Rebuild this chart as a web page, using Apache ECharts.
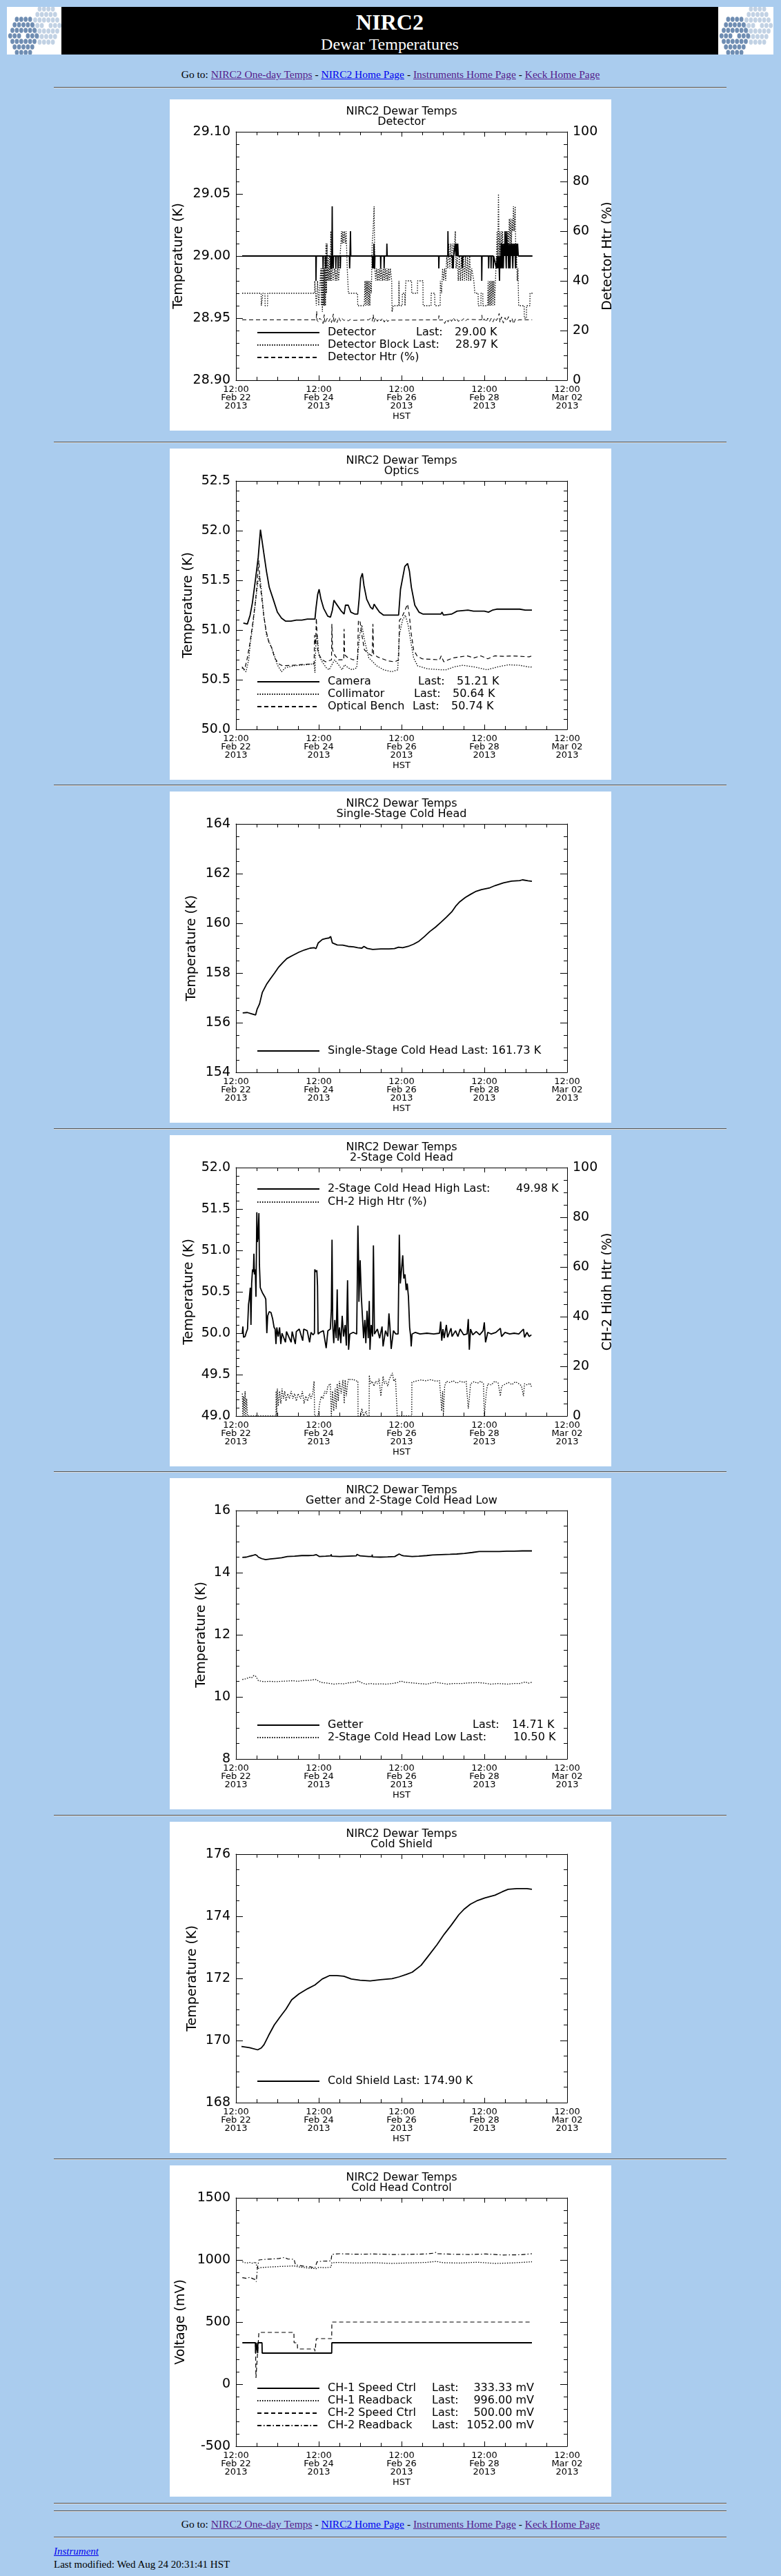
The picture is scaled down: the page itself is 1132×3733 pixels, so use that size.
<!DOCTYPE html>
<html>
<head>
<meta charset="utf-8">
<title>NIRC2 Dewar Temperatures</title>
<script src="https://cdn.jsdelivr.net/npm/echarts@6.0.0/dist/echarts.min.js"></script>
<style>
body { margin:0; background:#aaccee; width:1132px; height:3733px; position:relative; overflow:hidden;
       font-family:"Liberation Serif","Times New Roman",serif; color:#000; }
.logo { position:absolute; top:10px; width:80px; height:69px; background:#fff; }
.banner { position:absolute; left:89px; top:10px; width:952px; height:69px; background:#000; color:#fff; text-align:center; }
.banner .t1 { position:absolute; left:0; width:100%; top:6px; font-size:32px; line-height:32px; font-weight:bold; }
.banner .t2 { position:absolute; left:0; width:100%; top:42px; font-size:24px; line-height:24px; }
.hr { position:absolute; left:78px; width:975px; height:0; border-top:1px solid #555; border-bottom:1px solid #dcdcdc; }
.nav { position:absolute; left:0; width:1132px; text-align:center; font-size:15.5px; line-height:16px; }
.line { position:absolute; left:78px; font-size:15px; line-height:16px; }
a { text-decoration:underline; }
a.v { color:#551a8b; }
a.n { color:#0000ee; }
.panel { position:absolute; left:246px; width:640px; height:480px; background:#fff; }
</style>
</head>
<body>
<div class="logo" id="logoL" style="left:10px"></div>
<div class="banner"><div class="t1">NIRC2</div><div class="t2">Dewar Temperatures</div></div>
<div class="logo" id="logoR" style="left:1041px"></div>

<div class="nav" style="top:100px">Go to: <a class="v" href="#">NIRC2 One-day Temps</a> - <a class="n" href="#">NIRC2 Home Page</a> - <a class="v" href="#">Instruments Home Page</a> - <a class="v" href="#">Keck Home Page</a></div>
<div class="hr" style="top:126px"></div>

<div class="panel" id="c1" style="top:144px"></div>
<div class="hr" style="top:640px"></div>
<div class="panel" id="c2" style="top:650px"></div>
<div class="hr" style="top:1137px"></div>
<div class="panel" id="c3" style="top:1147px"></div>
<div class="hr" style="top:1635px"></div>
<div class="panel" id="c4" style="top:1645px"></div>
<div class="hr" style="top:2132px"></div>
<div class="panel" id="c5" style="top:2142px"></div>
<div class="hr" style="top:2630px"></div>
<div class="panel" id="c6" style="top:2640px"></div>
<div class="hr" style="top:3128px"></div>
<div class="panel" id="c7" style="top:3138px"></div>

<div class="hr" style="top:3627px"></div>
<div class="hr" style="top:3638px"></div>
<div class="nav" style="top:3650px">Go to: <a class="v" href="#">NIRC2 One-day Temps</a> - <a class="n" href="#">NIRC2 Home Page</a> - <a class="v" href="#">Instruments Home Page</a> - <a class="v" href="#">Keck Home Page</a></div>
<div class="hr" style="top:3676px"></div>
<div class="line" style="top:3689px"><a class="n" href="#"><i>Instrument</i></a></div>
<div class="line" style="top:3708px">Last modified: Wed Aug 24 20:31:41 HST</div>

<script>
// x values are hours after 12:00 HST Feb 22 2013
const xDays = ['Feb 22', 'Feb 24', 'Feb 26', 'Feb 28', 'Mar 02'];

// --- Detector ---
const detector = [[3.6,29.00],[46.3,29.00],[46.4,28.98],[46.6,29.00],[50.4,29.00],[50.5,28.99],[50.7,29.00],[52.0,29.00],[52.1,28.99],[52.3,29.00],
  [54.9,29.00],[55.0,28.99],[55.2,29.00],[55.4,28.99],[55.6,29.00],[55.8,29.04],[56.0,29.00],[56.4,28.99],[56.6,29.00],[57.8,29.00],[57.9,28.99],[58.1,29.00],
  [59.1,29.00],[59.2,28.99],[59.4,29.00],[60.4,29.00],[60.5,28.99],[60.7,29.00],[65.8,29.00],[65.9,28.99],[66.1,29.00],[66.4,29.02],[66.6,29.00],
  [79.1,29.00],[79.2,28.99],[79.4,29.00],[79.8,28.99],[80.0,29.01],[80.2,29.00],[80.4,28.99],[80.6,29.00],[83.8,29.00],[83.9,28.99],[84.1,29.00],
  [85.8,29.00],[85.9,28.99],[86.1,29.00],[87.4,29.00],[87.5,29.01],[87.7,29.00],[117.5,29.00],[117.6,28.99],[117.8,29.00],[122.8,29.00],[122.9,29.02],[123.1,29.00],
  [125.5,29.00],[125.6,28.99],[125.8,29.00],[126.0,28.99],[126.2,29.00],[127.1,29.01],[127.5,29.00],[127.8,29.01],[128.2,29.00],[128.6,29.01],[128.9,29.00],
  [131.1,29.00],[131.2,28.99],[131.4,29.00],[142.4,29.00],[142.5,28.98],[142.7,29.00],[146.4,29.00],[146.5,28.99],[146.7,29.00],[147.8,29.00],[147.9,28.99],[148.1,29.00],
  [149.1,29.00],[149.2,28.99],[149.4,29.00],[151.0,28.99],[151.4,29.00],[151.8,28.99],[152.2,29.00],[152.6,28.99],[152.8,28.98],[153.0,29.00],[153.4,28.99],
  [153.8,29.01],[154.2,28.99],[154.6,29.01],[155.0,28.99],[155.4,29.01],[155.8,29.00],[156.0,29.02],[156.3,29.01],[156.7,28.99],[157.0,29.02],[157.3,29.00],
  [157.7,29.01],[158.1,28.99],[158.5,29.01],[158.9,28.99],[159.3,29.01],[159.7,29.00],[160.1,29.01],[160.5,28.99],[160.9,29.01],[161.3,29.00],[161.7,29.01],
  [162.1,28.99],[162.5,29.01],[162.9,29.00],[163.3,29.01],[163.7,29.00],[171.9,29.00]];
const detectorBlock = [[3.6,28.97],[14.6,28.97],[14.7,28.96],[15.5,28.96],[15.6,28.97],[16.8,28.97],[16.9,28.96],[18.3,28.96],[18.4,28.97],[45.6,28.97],
  [45.7,28.98],[46.5,28.98],[46.6,28.96],[47.2,28.96],[47.3,28.98],[47.9,28.98],[48.0,28.96],[49.2,28.99],[49.5,28.96],[49.8,28.99],[50.1,28.955],[50.4,28.99],
  [50.7,28.96],[51.0,28.99],[51.3,28.96],[51.6,29.00],[51.9,28.96],[52.2,29.01],[52.5,28.97],[52.8,29.01],[53.1,28.98],[53.5,29.00],[53.9,28.98],[54.3,29.00],
  [54.7,28.98],[55.0,29.02],[55.4,28.98],[55.8,29.00],[56.3,28.98],[57.2,28.99],[57.6,28.98],[58.0,28.99],[58.5,28.98],[59.0,28.99],[59.5,28.98],[60.0,28.99],
  [61.2,29.02],[61.6,29.01],[62.0,29.02],[62.5,29.01],[63.0,29.02],[63.5,29.01],[63.9,29.02],[64.5,28.99],[65.2,28.97],[70.5,28.97],[70.6,28.96],[74.4,28.96],
  [74.8,28.98],[75.2,28.96],[75.6,28.98],[76.0,28.96],[76.4,28.98],[76.8,28.96],[77.2,28.98],[77.6,28.96],[78.0,28.98],[78.5,28.97],[79.0,29.01],[79.5,29.02],
  [80.1,29.04],[80.5,28.99],[81.0,28.98],[81.5,28.99],[82.0,28.98],[82.5,28.99],[83.0,28.98],[83.5,28.99],[84.0,28.98],[84.5,28.99],[85.0,28.98],[85.5,28.99],
  [86.0,28.98],[86.5,28.99],[87.0,28.98],[87.5,28.99],[88.0,28.98],[88.5,28.99],[89.0,28.98],[89.5,28.99],[90.3,28.98],[90.5,28.955],[91.2,28.96],[94.4,28.96],
  [94.5,28.98],[94.7,28.96],[96.4,28.96],[96.5,28.97],[97.9,28.97],[98.0,28.96],[98.4,28.96],[98.5,28.98],[101.8,28.98],[101.9,28.97],[105.2,28.97],[105.3,28.98],
  [108.4,28.98],[108.5,28.96],[113.1,28.96],[113.2,28.97],[115.2,28.97],[115.3,28.96],[118.4,28.96],[118.5,28.98],[119.2,28.97],[119.8,28.99],[120.4,28.98],
  [121.0,28.99],[121.6,28.98],[122.2,29.00],[122.8,28.99],[123.4,29.01],[124.0,28.99],[124.6,29.01],[125.2,28.99],[125.8,29.01],[126.4,29.00],[127.2,29.02],
  [127.6,28.99],[128.3,29.00],[128.9,28.98],[129.5,29.00],[130.1,28.98],[130.7,29.00],[131.3,28.98],[131.9,29.00],[132.5,28.98],[133.1,29.00],[133.7,28.98],
  [134.3,29.00],[134.9,28.98],[135.5,29.00],[136.1,28.98],[136.7,28.99],[137.9,28.98],[138.5,28.97],[140.4,28.97],[140.5,28.96],[142.0,28.96],[142.1,28.97],
  [143.1,28.97],[143.2,28.96],[145.8,28.96],[146.2,28.98],[146.6,28.96],[147.0,28.98],[147.4,28.96],[147.8,28.98],[148.2,28.96],[148.6,28.98],[149.0,28.96],
  [149.5,28.98],[149.9,28.96],[151.0,29.00],[151.4,29.02],[151.8,29.00],[152.2,29.05],[152.6,29.00],[153.0,29.02],[153.4,29.00],[153.8,29.02],[154.2,29.00],
  [154.6,29.02],[155.0,29.00],[156.5,29.01],[156.9,29.02],[157.3,29.00],[157.7,29.02],[158.1,29.01],[158.5,29.03],[158.9,29.01],[159.3,29.03],[159.7,29.01],
  [160.1,29.03],[160.5,29.02],[160.9,29.04],[161.3,29.02],[161.9,29.04],[162.3,28.99],[162.7,29.00],[163.1,28.98],[163.5,28.99],[163.9,28.96],[167.1,28.96],
  [167.2,28.95],[168.4,28.95],[168.5,28.96],[170.4,28.96],[170.5,28.97],[171.9,28.97]];
const detectorHtr = [[3.6,24.3],[46.5,24.3],[46.8,27.8],[47.0,24.0],[48.0,23.5],[48.5,25.0],[49.5,24.3],[50.5,22.8],[51.2,26.4],[51.6,22.9],[52.3,24.0],
  [53.0,25.0],[53.8,23.6],[54.6,24.8],[55.4,23.2],[56.5,26.7],[56.8,23.0],[57.8,24.8],[58.6,23.2],[59.6,25.3],[60.6,23.8],[61.5,24.9],[62.6,24.0],[63.8,24.6],
  [65.0,23.9],[66.5,24.5],[68.0,24.1],[77.0,24.3],[78.0,24.9],[79.0,23.8],[79.6,26.4],[80.0,23.5],[81.0,25.2],[82.0,23.7],[83.0,24.9],[84.0,23.9],[85.0,25.0],
  [86.0,23.4],[87.0,24.7],[88.0,23.6],[89.0,24.4],[90.0,24.2],[117.4,24.3],[117.7,26.0],[118.0,24.2],[120.0,24.3],[121.0,22.8],[122.0,24.5],[123.0,23.5],
  [124.0,24.8],[125.0,23.7],[126.0,25.2],[127.0,23.9],[128.0,24.9],[129.0,23.6],[130.0,24.6],[131.0,24.0],[132.0,24.8],[133.0,23.8],[134.0,24.5],[142.4,24.3],
  [142.6,26.2],[142.9,24.0],[144.0,24.7],[145.0,23.4],[146.0,25.0],[147.0,23.6],[148.0,24.9],[149.0,23.5],[150.0,25.1],[151.0,24.0],[152.0,25.4],[152.6,26.9],
  [153.0,23.3],[154.0,25.5],[155.0,23.0],[156.0,25.2],[157.0,23.8],[158.0,25.6],[159.0,23.4],[160.0,25.0],[161.0,22.7],[162.0,24.6],[163.0,23.9],[164.0,24.3],[171.7,24.3]];

// --- Optics ---
const camera = [[4.3,51.07],[6.6,51.06],[8.2,51.15],[9.5,51.27],[11.4,51.52],[12.9,51.73],[14.2,52.01],[14.8,52.01],[16.1,51.78],[17.7,51.59],[19.3,51.43],
  [21.6,51.31],[24.0,51.18],[26.4,51.12],[28.7,51.09],[31.9,51.09],[35.0,51.10],[38.2,51.10],[41.4,51.11],[45.8,51.11],[46.4,51.22],[47.4,51.36],[48.2,51.41],
  [49.3,51.31],[50.8,51.22],[53.2,51.14],[54.8,51.13],[55.9,51.20],[56.8,51.30],[57.9,51.27],[59.5,51.23],[61.1,51.19],[62.7,51.16],[63.5,51.25],[65.1,51.25],
  [66.6,51.18],[69.0,51.16],[70.6,51.16],[71.4,51.31],[72.3,51.52],[73.3,51.57],[74.2,51.45],[75.8,51.31],[78.0,51.23],[79.3,51.21],[80.1,51.26],[81.2,51.23],
  [83.2,51.18],[85.6,51.15],[90.3,51.15],[94.3,51.15],[95.4,51.41],[96.6,51.52],[97.9,51.64],[99.5,51.67],[100.6,51.59],[101.7,51.43],[103.7,51.25],[106.1,51.18],
  [108.5,51.16],[118.8,51.16],[119.5,51.18],[120.3,51.15],[125.0,51.16],[128.2,51.19],[134.5,51.20],[137.7,51.19],[144.0,51.19],[146.4,51.18],[148.7,51.20],
  [151.1,51.21],[158.2,51.21],[164.5,51.21],[167.7,51.20],[171.6,51.20]];
const collimator = [[3.5,50.62],[5.8,50.58],[7.4,50.70],[8.2,50.85],[9.8,51.05],[11.4,51.30],[12.9,51.50],[13.7,51.55],[14.5,51.45],[16.1,51.15],[17.7,50.95],
  [20.0,50.85],[22.1,50.75],[24.0,50.65],[26.4,50.58],[28.7,50.62],[33.5,50.64],[40.0,50.65],[45.3,50.66],[45.8,50.57],[46.4,50.90],[47.2,50.95],[48.0,50.75],
  [50.0,50.68],[52.4,50.62],[54.0,50.60],[55.6,50.65],[57.2,50.70],[59.5,50.65],[61.5,50.60],[63.0,50.65],[65.0,50.62],[67.4,50.60],[70.0,50.62],[71.7,50.95],
  [73.0,51.05],[74.5,50.90],[77.0,50.72],[79.3,50.68],[81.6,50.64],[85.6,50.60],[90.3,50.58],[93.8,50.60],[94.7,50.95],[96.6,51.10],[98.2,51.15],[99.8,51.05],
  [101.4,50.88],[103.0,50.72],[105.3,50.64],[110.9,50.61],[118.8,50.60],[121.9,50.60],[126.6,50.63],[131.4,50.645],[137.7,50.63],[145.6,50.60],[151.9,50.63],
  [158.2,50.65],[164.5,50.645],[170.8,50.625],[171.6,50.63]];
const opticalBench = [[3.5,50.63],[5.0,50.60],[6.6,50.72],[8.2,50.88],[9.8,51.08],[11.4,51.30],[12.6,51.55],[13.3,51.70],[14.0,51.45],[14.8,51.35],[16.1,51.15],
  [17.4,51.00],[19.0,50.88],[20.8,50.82],[22.4,50.72],[24.8,50.66],[27.0,50.64],[33.0,50.645],[40.0,50.655],[45.3,50.66],[45.6,50.95],[46.2,50.85],[46.6,51.12],
  [47.4,50.80],[48.5,50.74],[50.0,50.70],[52.0,50.68],[55.4,50.70],[55.6,51.06],[56.0,50.80],[57.5,50.74],[59.5,50.70],[62.5,50.70],[62.7,51.01],[63.0,50.75],
  [65.0,50.72],[68.0,50.70],[70.5,50.71],[71.0,51.10],[72.0,51.08],[73.0,50.95],[74.5,50.80],[77.0,50.76],[79.0,50.74],[79.4,51.06],[79.8,50.76],[82.0,50.73],
  [85.0,50.71],[88.0,50.69],[92.0,50.68],[94.3,50.70],[94.8,51.10],[96.0,51.12],[98.0,51.20],[99.5,51.26],[100.5,51.15],[101.5,50.98],[103.0,50.80],[105.0,50.74],
  [108.0,50.71],[118.0,50.70],[119.0,50.74],[120.5,50.68],[123.0,50.70],[126.0,50.72],[130.0,50.73],[134.0,50.74],[138.0,50.72],[142.0,50.74],[146.0,50.71],
  [150.0,50.74],[155.0,50.735],[160.0,50.74],[165.0,50.735],[170.0,50.73],[171.6,50.74]];

// --- Single-Stage Cold Head ---
const coldHead1 = [[3.9,156.39],[6.6,156.41],[9.0,156.36],[11.4,156.31],[12.2,156.53],[13.7,156.76],[15.3,157.22],[17.7,157.54],[20.0,157.77],[22.4,158.00],
  [24.8,158.24],[27.2,158.42],[29.5,158.58],[32.7,158.70],[36.6,158.84],[39.8,158.93],[43.0,159.00],[45.3,159.02],[46.4,158.98],[47.7,159.21],[50.1,159.35],
  [52.4,159.39],[54.0,159.41],[54.9,159.47],[55.9,159.21],[58.7,159.13],[61.9,159.12],[65.1,159.07],[68.2,159.05],[70.6,159.02],[73.0,159.00],[74.2,159.07],
  [76.1,158.99],[79.3,158.95],[84.0,158.97],[88.7,158.97],[91.9,158.98],[94.3,159.04],[96.6,159.02],[99.8,159.07],[103.0,159.16],[106.1,159.28],[109.3,159.47],
  [112.4,159.67],[115.6,159.84],[118.8,160.04],[121.9,160.24],[125.1,160.46],[127.4,160.69],[129.8,160.87],[133.0,161.04],[136.1,161.17],[139.3,161.29],
  [142.4,161.36],[147.2,161.43],[150.3,161.52],[155.1,161.63],[159.8,161.70],[164.5,161.72],[166.1,161.75],[169.3,161.71],[171.6,161.69]];

// --- 2-Stage Cold Head ---
const coldHead2High = [[3.7,50.00],[4.0,50.08],[4.4,49.95],[5.3,49.96],[6.0,50.01],[6.7,50.05],[7.3,50.35],[7.7,50.41],[8.3,50.55],[8.7,50.10],[9.1,50.60],
  [9.6,50.77],[10.1,50.74],[10.4,50.96],[10.7,50.71],[11.2,50.77],[11.6,50.44],[12.1,51.46],[12.4,51.10],[12.8,51.16],[13.3,51.45],[13.6,50.83],[14.1,50.55],
  [14.7,50.52],[15.3,50.49],[16.7,50.44],[17.3,50.41],[17.9,50.00],[18.4,50.21],[19.3,50.26],[20.3,50.25],[21.3,50.17],[22.1,50.07],[22.7,50.05],[23.2,49.87],
  [23.7,50.07],[24.5,49.96],[25.3,50.07],[26.0,49.87],[26.7,50.00],[28.7,49.89],[29.3,50.02],[32.0,49.89],[32.6,50.02],[34.4,49.87],[35.0,50.02],[36.7,50.05],
  [38.7,49.91],[39.3,50.05],[41.3,50.03],[42.7,49.89],[43.5,50.01],[44.7,49.98],[45.5,50.00],[45.7,50.77],[46.4,50.74],[46.9,50.76],[47.3,50.57],[47.6,49.99],
  [48.7,50.01],[50.7,50.03],[52.3,49.82],[53.3,50.03],[54.7,50.05],[55.3,50.28],[55.7,51.13],[56.1,50.10],[56.7,49.88],[57.3,50.16],[58.1,49.94],[58.7,50.53],
  [59.2,49.91],[60.0,50.07],[60.8,49.88],[61.6,50.21],[62.4,49.96],[63.3,50.10],[64.0,49.85],[64.7,50.64],[65.3,49.80],[66.0,49.99],[68.0,50.01],[70.0,49.99],
  [70.7,51.30],[71.1,50.85],[71.3,50.38],[72.0,50.88],[72.7,50.44],[73.3,50.21],[74.0,49.94],[74.7,50.16],[75.3,49.88],[76.0,50.27],[76.7,49.94],[77.3,50.39],
  [77.7,49.80],[78.4,50.10],[79.2,49.96],[79.7,51.06],[80.3,49.99],[82.0,50.05],[83.3,49.94],[84.7,50.08],[85.3,49.84],[86.7,50.03],[88.0,49.96],[88.7,50.24],
  [89.3,50.07],[90.0,49.81],[91.3,50.03],[92.7,49.99],[94.0,49.99],[94.7,51.19],[95.3,50.60],[96.0,50.77],[96.7,50.94],[97.3,50.66],[98.0,50.71],[98.7,50.52],
  [99.3,50.60],[100.0,50.44],[100.7,50.07],[101.3,49.96],[101.6,49.84],[102.1,49.99],[104.0,50.01],[106.7,49.99],[110.7,50.00],[114.7,49.99],[118.0,50.00],
  [118.7,50.14],[119.3,49.91],[120.0,50.05],[120.7,49.94],[122.0,50.10],[122.7,49.95],[124.7,50.06],[125.3,49.96],[127.3,50.03],[128.7,49.96],[130.0,50.05],
  [132.0,49.98],[134.0,49.99],[134.7,50.17],[135.3,49.80],[136.0,50.05],[137.3,49.98],[139.3,50.02],[141.3,49.98],[143.3,50.03],[144.0,50.13],[144.7,49.89],
  [146.0,50.01],[148.0,49.99],[150.7,50.01],[153.3,50.06],[154.0,49.96],[156.0,50.01],[158.7,49.99],[161.3,50.00],[164.0,49.99],[166.7,50.05],[167.3,49.95],
  [168.7,50.01],[170.0,49.96],[171.3,49.98]];
const ch2HighHtr = [[3.7,9],[4.0,0],[4.4,8],[4.8,0],[5.3,10],[5.7,0],[6.2,7],[6.7,0],[23.2,0],[23.3,10],[23.6,0],[24.0,11],[24.5,4],[25.3,10],[26.0,5],
  [26.7,11],[27.5,7],[28.3,10],[29.0,6],[30.0,9],[31.0,7],[32.0,10],[33.0,7],[34.0,9],[35.0,6],[36.0,9],[37.5,7],[38.5,10],[39.5,5],[40.5,8],[41.5,6],[42.7,9],
  [43.5,7],[44.5,9],[45.3,14],[45.6,0],[47.6,0],[48.5,5],[49.5,8],[50.5,7],[51.5,10],[52.5,9],[53.3,12],[54.7,13],[55.3,0],[56.0,10],[56.7,2],[57.5,11],
  [58.1,3],[58.7,13],[59.3,6],[60.0,14],[61.0,9],[62.0,14.5],[62.8,5],[63.3,14.5],[64.0,8],[64.7,13],[65.3,15],[66.7,14.5],[68.0,14.8],[69.3,14.2],[70.7,14],
  [70.8,0],[72.5,0],[73.0,3],[74.0,0],[75.5,2],[76.0,0],[77.2,0],[77.3,16.4],[78.0,13],[79.0,14],[80.0,12],[81.0,14],[82.0,13],[83.0,15],[84.0,8],[85.3,16],
  [86.0,13],[87.0,14],[88.0,12],[89.0,15],[90.7,17.3],[91.5,14],[92.5,15],[93.3,14.5],[93.5,0],[101.9,0],[102.0,13.6],[104.0,14],[107.0,14.5],[110.0,14.2],
  [113.0,14.6],[116.0,14.0],[118.0,14.3],[118.7,8],[119.3,2],[119.8,10],[120.3,1],[121.0,12],[122.0,14],[124.0,13.5],[126.0,14.2],[128.0,13.2],[130.0,14],
  [132.0,13.5],[133.5,14],[134.0,9],[134.7,3],[135.3,7],[136.0,13],[138.0,13.8],[140.0,13.2],[142.0,14],[143.5,13],[144.0,0],[144.7,0],[145.2,10],[146.0,13],
  [148.0,12.5],[150.0,14],[152.0,13.3],[153.3,8],[154.0,12],[156.0,12.8],[158.0,13.5],[160.0,12.6],[162.0,13.8],[164.0,13],[165.5,12.2],[166.7,8],[167.3,13],
  [169.0,12.5],[170.5,13.2],[171.3,11.8]];

// --- Getter and 2-Stage Cold Head Low ---
const getter = [[3.7,14.49],[6.0,14.50],[7.9,14.53],[9.5,14.55],[11.3,14.58],[12.2,14.55],[13.0,14.50],[15.0,14.45],[17.2,14.42],[20.0,14.44],[23.1,14.46],
  [26.5,14.48],[29.8,14.52],[34.0,14.53],[38.2,14.55],[42.0,14.55],[45.0,14.56],[46.6,14.58],[48.3,14.52],[52.0,14.53],[55.0,14.54],[55.2,14.59],[55.5,14.53],
  [60.1,14.52],[65.0,14.53],[69.8,14.54],[70.2,14.59],[71.9,14.54],[77.0,14.52],[78.9,14.52],[79.0,14.58],[79.1,14.51],[83.7,14.50],[88.0,14.51],[92.1,14.52],
  [94.6,14.60],[96.0,14.56],[97.2,14.54],[102.2,14.52],[106.0,14.53],[110.6,14.55],[114.0,14.57],[119.0,14.58],[124.1,14.59],[128.0,14.60],[132.5,14.62],
  [137.0,14.65],[141.0,14.68],[147.0,14.68],[152.7,14.68],[157.0,14.69],[161.2,14.69],[166.0,14.70],[171.6,14.70]];
const coldHead2Low = [[3.7,10.56],[5.5,10.58],[7.9,10.63],[9.0,10.61],[10.4,10.69],[11.5,10.66],[13.0,10.52],[16.3,10.49],[19.5,10.50],[23.1,10.49],[26.0,10.50],
  [29.8,10.51],[33.0,10.52],[36.0,10.50],[38.2,10.52],[42.0,10.53],[45.0,10.55],[46.6,10.56],[48.0,10.50],[50.0,10.46],[53.5,10.44],[56.8,10.41],[60.0,10.43],
  [62.5,10.42],[65.2,10.45],[69.0,10.47],[71.1,10.52],[72.5,10.46],[75.3,10.41],[78.0,10.43],[80.3,10.41],[84.0,10.42],[87.1,10.41],[90.5,10.43],[93.8,10.46],
  [95.5,10.51],[98.0,10.47],[102.2,10.45],[106.0,10.43],[110.6,10.41],[113.0,10.44],[115.7,10.47],[119.0,10.44],[122.4,10.41],[126.0,10.43],[130.8,10.43],
  [135.0,10.45],[141.0,10.46],[144.0,10.44],[147.7,10.41],[152.0,10.43],[157.8,10.41],[161.0,10.43],[164.5,10.43],[167.9,10.48],[169.5,10.44],[171.6,10.47]];

// --- Cold Shield ---
const coldShield = [[3.2,169.81],[7.9,169.77],[12.6,169.70],[14.7,169.76],[16.3,169.87],[18.9,170.16],[22.2,170.50],[25.6,170.76],[29.0,171.01],[32.3,171.31],
  [36.5,171.50],[41.6,171.67],[45.8,171.79],[50.0,171.98],[54.2,172.09],[58.4,172.09],[62.6,172.07],[66.9,171.98],[71.9,171.94],[77.8,171.92],[83.7,171.96],
  [90.5,171.99],[94.6,172.05],[98.9,172.13],[102.2,172.20],[107.3,172.42],[111.5,172.72],[116.6,173.09],[120.7,173.42],[124.9,173.72],[129.2,174.05],
  [132.5,174.24],[135.9,174.39],[140.1,174.51],[144.3,174.59],[150.2,174.68],[154.4,174.79],[157.8,174.87],[162.8,174.89],[168.7,174.89],[171.6,174.87]];

// --- Cold Head Control (mV) ---
const ch1Speed = [[3.7,333.33],[11.3,333.33],[11.4,250],[11.6,250],[11.7,333.33],[12.5,333.33],[12.6,250],[12.7,333.33],[15.1,333.33],[15.2,250],[55.5,250],
  [55.6,333.33],[171.6,333.33]];
const ch1Readback = [[3.7,985],[6.0,975],[8.0,980],[10.0,972],[11.3,985],[12.6,930],[14.0,938],[18.0,942],[22.0,945],[26.0,948],[30.0,950],[33.7,952],[36.0,945],
  [40.0,938],[44.0,932],[46.6,930],[48.0,940],[52.0,938],[55.1,942],[55.6,978],[60.0,980],[70.0,975],[80.0,978],[90.0,972],[100.0,976],[110.0,980],[116.0,988],
  [120.0,978],[130.0,975],[140.0,982],[150.0,972],[160.0,976],[171.6,985]];
const ch2Speed = [[11.3,333.33],[11.6,50],[12.0,50],[13.3,416.67],[33.6,416.67],[33.7,333.33],[35.6,333.33],[35.7,283.33],[45.6,283.33],[45.8,265],[46.0,283.33],
  [46.5,283.33],[46.6,366.67],[55.5,366.67],[55.6,500],[171.6,500]];
const ch2Readback = [[3.7,858],[6.0,852],[8.0,860],[10.0,848],[11.3,842],[11.8,825],[12.4,930],[13.3,1000],[17.0,1005],[21.0,1008],[25.0,1012],[28.0,1020],
  [30.0,1008],[33.7,1005],[34.5,960],[37.0,955],[40.0,948],[43.0,945],[45.8,935],[46.6,925],[47.0,985],[50.0,990],[55.1,992],[55.6,1045],[60.0,1050],[70.0,1046],
  [80.0,1048],[90.0,1044],[100.0,1045],[110.0,1048],[115.0,1055],[116.0,1062],[117.0,1050],[125.0,1046],[135.0,1044],[145.0,1048],[155.0,1040],[165.0,1042],
  [171.6,1050]];

const FONT = 'DejaVu Sans';
const SOLID = 'solid', DOTTED = [1.5, 2], DASHED = [6, 4], DASHDOT = [6, 3, 1.5, 3];
const black = '#000';

function xAxes() {
  const base = {
    type: 'value', min: 0, max: 192, interval: 48,
    axisLine: { show: true, onZero: false, lineStyle: { color: black, width: 1 } },
    axisTick: { show: true, inside: true, length: 7, lineStyle: { color: black, width: 1 } },
    minorTick: { show: true, splitNumber: 4, length: 5, lineStyle: { color: black, width: 1 } },
    splitLine: { show: false }, minorSplitLine: { show: false }
  };
  return [
    Object.assign({}, base, {
      position: 'bottom', name: 'HST', nameLocation: 'middle', nameGap: 46, nameMoveOverlap: false,
      nameTextStyle: { color: black, fontFamily: FONT, fontSize: 13 },
      axisLabel: {
        color: black, fontFamily: FONT, fontSize: 13, lineHeight: 12, margin: 8,
        showMinLabel: true, showMaxLabel: true,
        formatter: v => '12:00\n' + xDays[Math.round(v / 48)] + '\n2013'
      }
    }),
    Object.assign({}, base, { position: 'top', axisLabel: { show: false } })
  ];
}

function yAxis(pos, min, max, interval, minor, dec, name, nameGap, showLabel) {
  return {
    type: 'value', position: pos, min: min, max: max, interval: interval,
    axisLine: { show: true, onZero: false, lineStyle: { color: black, width: 1 } },
    axisTick: { show: true, inside: true, length: 10, lineStyle: { color: black, width: 1 } },
    minorTick: { show: true, splitNumber: minor, length: 5, lineStyle: { color: black, width: 1 } },
    splitLine: { show: false }, minorSplitLine: { show: false },
    axisLabel: { show: showLabel, color: black, fontFamily: FONT, fontSize: 19, margin: 8,
      showMinLabel: true, showMaxLabel: true, formatter: v => v.toFixed(dec) },
    name: name || '', nameLocation: 'middle', nameGap: nameGap || 0, nameMoveOverlap: false,
    nameTextStyle: { color: black, fontFamily: FONT, fontSize: 19 }
  };
}

function line(name, data, type, width, yIdx) {
  return {
    type: 'line', name: name, data: data, yAxisIndex: yIdx || 0,
    showSymbol: false, symbol: 'none', animation: false, silent: true, clip: true,
    lineStyle: { color: black, width: width, type: type }, itemStyle: { color: black },
    emphasis: { disabled: true }
  };
}

function makeChart(id, cfg) {
  const chart = echarts.init(document.getElementById(id));
  const rich = Object.assign({ s: { width: 7 }, v: {} }, cfg.rich || {});
  Object.keys(rich).forEach(k => { rich[k].lineHeight = 18; });
  chart.setOption({
    animation: false,
    backgroundColor: '#fff',
    textStyle: { fontFamily: FONT },
    title: {
      text: 'NIRC2 Dewar Temps\n' + cfg.title, left: 336, top: 10, textAlign: 'center', padding: 0,
      textStyle: { color: black, fontFamily: FONT, fontSize: 16, fontWeight: 'normal', lineHeight: 15 }
    },
    grid: { left: 96, right: 64, top: 47, height: 360, containLabel: false, outerBoundsMode: 'none' },
    legend: {
      left: 126, top: cfg.legendTop, orient: 'vertical', padding: 0, itemGap: cfg.legendGap || 0,
      itemWidth: 90, itemHeight: 14, selectedMode: false,
      itemStyle: { opacity: 0 },
      data: cfg.series.map(s => s.name),
      formatter: name => '{s| }' + cfg.legend[name],
      textStyle: { color: black, fontFamily: FONT, fontSize: 16, lineHeight: 18, rich: rich }
    },
    xAxis: xAxes(),
    yAxis: cfg.yAxis,
    series: cfg.series
  });
}

makeChart('c1', {
  title: 'Detector', legendTop: 329,
  yAxis: [yAxis('left', 28.9, 29.1, 0.05, 5, 2, 'Temperature (K)', 73, true),
          yAxis('right', 0, 100, 20, 4, 0, 'Detector Htr (%)', 50, true)],
  series: [line('Detector', detector, SOLID, 1.8), line('Detector Block', detectorBlock, DOTTED, 1.3),
           line('Detector Htr (%)', detectorHtr, DASHED, 1, 1)],
  rich: { a: { width: 128 }, l: { width: 56 }, m: { width: 185 } },
  legend: { 'Detector': '{a|Detector}{l|Last:}{v|29.00 K}', 'Detector Block': '{m|Detector Block Last:}{v|28.97 K}',
            'Detector Htr (%)': '{v|Detector Htr (%)}' }
});

makeChart('c2', {
  title: 'Optics', legendTop: 329,
  yAxis: [yAxis('left', 50, 52.5, 0.5, 5, 1, 'Temperature (K)', 59, true),
          yAxis('right', 50, 52.5, 0.5, 5, 1, '', 0, false)],
  series: [line('Camera', camera, SOLID, 1.8), line('Collimator', collimator, DOTTED, 1.3), line('Optical Bench', opticalBench, DASHED, 1.2)],
  rich: { a: { width: 131 }, b: { width: 125 }, c: { width: 123 }, l: { width: 56 } },
  legend: { 'Camera': '{a|Camera}{l|Last:}{v|51.21 K}', 'Collimator': '{b|Collimator}{l|Last:}{v|50.64 K}',
            'Optical Bench': '{c|Optical Bench}{l|Last:}{v|50.74 K}' }
});

makeChart('c3', {
  title: 'Single-Stage Cold Head', legendTop: 367,
  yAxis: [yAxis('left', 154, 164, 2, 4, 0, 'Temperature (K)', 54, true),
          yAxis('right', 154, 164, 2, 4, 0, '', 0, false)],
  series: [line('Single-Stage Cold Head', coldHead1, SOLID, 1.8)],
  legend: { 'Single-Stage Cold Head': '{v|Single-Stage Cold Head Last: 161.73 K}' }
});

makeChart('c4', {
  title: '2-Stage Cold Head', legendTop: 69, legendGap: 1,
  yAxis: [yAxis('left', 49, 52, 0.5, 5, 1, 'Temperature (K)', 58, true),
          yAxis('right', 0, 100, 20, 4, 0, 'CH-2 High Htr (%)', 50, true)],
  series: [line('2-Stage Cold Head High', coldHead2High, SOLID, 1.8), line('CH-2 High Htr (%)', ch2HighHtr, DOTTED, 1.3, 1)],
  rich: { m: { width: 273 } },
  legend: { '2-Stage Cold Head High': '{m|2-Stage Cold Head High Last:}{v|49.98 K}', 'CH-2 High Htr (%)': '{v|CH-2 High Htr (%)}' }
});

makeChart('c5', {
  title: 'Getter and 2-Stage Cold Head Low', legendTop: 349,
  yAxis: [yAxis('left', 8, 16, 2, 4, 0, 'Temperature (K)', 40, true),
          yAxis('right', 8, 16, 2, 4, 0, '', 0, false)],
  series: [line('Getter', getter, SOLID, 1.8), line('2-Stage Cold Head Low', coldHead2Low, DOTTED, 1.3)],
  rich: { a: { width: 210 }, l: { width: 57 }, m: { width: 269 } },
  legend: { 'Getter': '{a|Getter}{l|Last:}{v|14.71 K}', '2-Stage Cold Head Low': '{m|2-Stage Cold Head Low Last:}{v|10.50 K}' }
});

makeChart('c6', {
  title: 'Cold Shield', legendTop: 367,
  yAxis: [yAxis('left', 168, 176, 2, 4, 0, 'Temperature (K)', 53, true),
          yAxis('right', 168, 176, 2, 4, 0, '', 0, false)],
  series: [line('Cold Shield', coldShield, SOLID, 1.8)],
  legend: { 'Cold Shield': '{v|Cold Shield Last: 174.90 K}' }
});

makeChart('c7', {
  title: 'Cold Head Control', legendTop: 314,
  yAxis: [yAxis('left', -500, 1500, 500, 5, 0, 'Voltage (mV)', 70, true),
          yAxis('right', -500, 1500, 500, 5, 0, '', 0, false)],
  series: [line('CH-1 Speed Ctrl', ch1Speed, SOLID, 1.8), line('CH-1 Readback', ch1Readback, DOTTED, 1.3),
           line('CH-2 Speed Ctrl', ch2Speed, DASHED, 1.2), line('CH-2 Readback', ch2Readback, DASHDOT, 1.2)],
  rich: { a: { width: 151 }, l: { width: 55 }, r: { width: 93, align: 'right' } },
  legend: { 'CH-1 Speed Ctrl': '{a|CH-1 Speed Ctrl}{l|Last:}{r|333.33 mV}', 'CH-1 Readback': '{a|CH-1 Readback}{l|Last:}{r|996.00 mV}',
            'CH-2 Speed Ctrl': '{a|CH-2 Speed Ctrl}{l|Last:}{r|500.00 mV}', 'CH-2 Readback': '{a|CH-2 Readback}{l|Last:}{r|1052.00 mV}' }
});

// Keck logo: two hexagonal segmented mirrors
function drawLogo(el) {
  const ns = 'http://www.w3.org/2000/svg';
  const svg = document.createElementNS(ns, 'svg');
  svg.setAttribute('width', '80'); svg.setAttribute('height', '69');
  [{ cx: 57, cy: 27, fill: '#c2d2e4' }, { cx: 24, cy: 42, fill: '#6f8db2' }].forEach(m => {
    for (let q = -3; q <= 3; q++) {
      for (let r = -3; r <= 3; r++) {
        const ring = Math.max(Math.abs(q), Math.abs(r), Math.abs(q + r));
        if (ring === 0 || ring > 3) continue;
        const c = document.createElementNS(ns, 'ellipse');
        c.setAttribute('cx', (m.cx + 6.4 * (q + r / 2)).toFixed(1));
        c.setAttribute('cy', (m.cy + 8.0 * r).toFixed(1));
        c.setAttribute('rx', '2.9');
        c.setAttribute('ry', '3.7');
        c.setAttribute('fill', m.fill);
        svg.appendChild(c);
      }
    }
  });
  el.appendChild(svg);
}
drawLogo(document.getElementById('logoL'));
drawLogo(document.getElementById('logoR'));
</script>
</body>
</html>
